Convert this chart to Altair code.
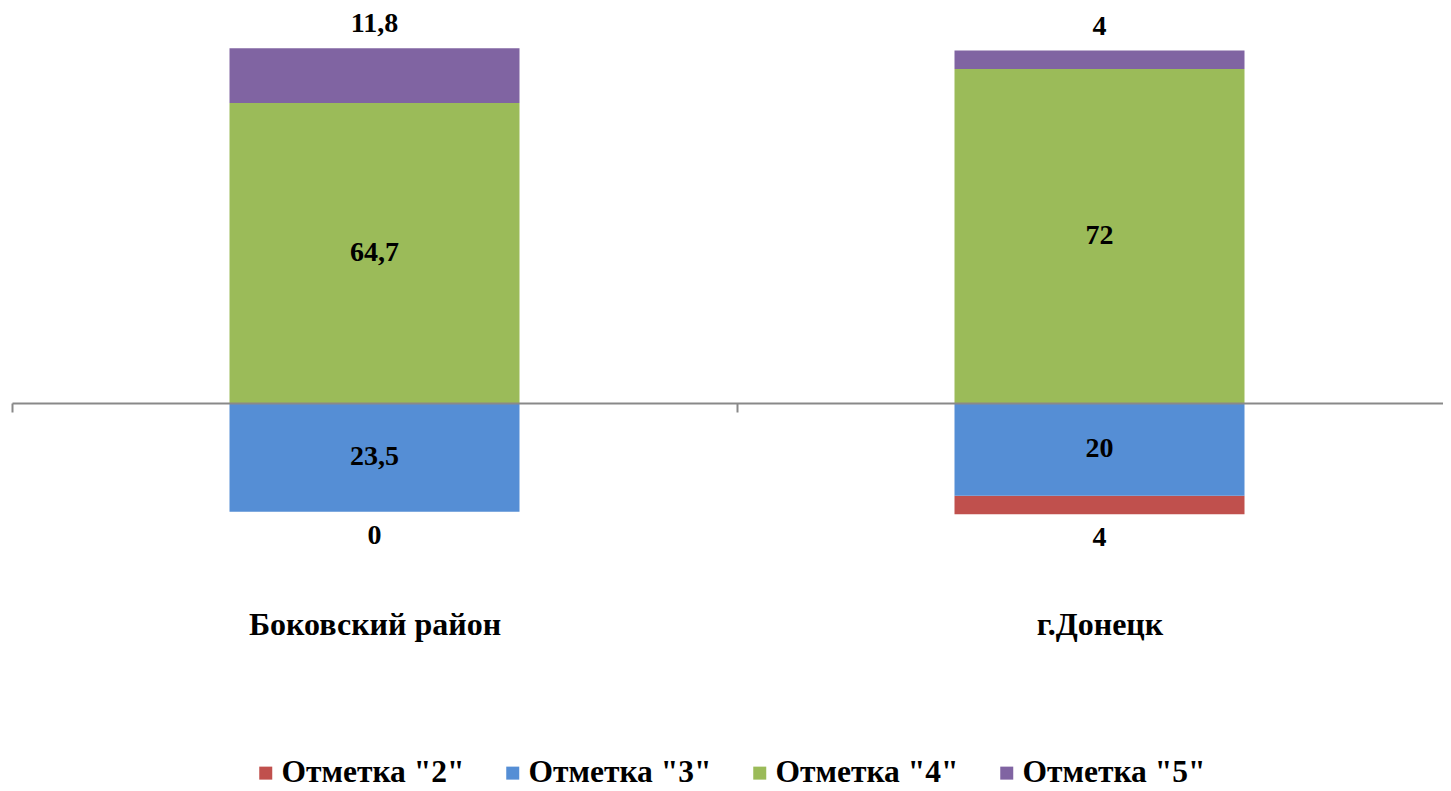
import altair as alt
import pandas as pd

categories = ["Боковский район", "г.Донецк"]
grades = ['Отметка "2"', 'Отметка "3"', 'Отметка "4"', 'Отметка "5"']
mark2 = [0, 4]
mark3 = [23.5, 20]
mark4 = [64.7, 72]
mark5 = [11.8, 4]
colors = ["#C0504D", "#558ED5", "#9BBB59", "#8064A2"]

series = [mark2, mark3, mark4, mark5]
sign = [-1, -1, 1, 1]
order = [1, 0, 0, 1]
pos = ["bottom", "mid", "mid", "top"]


def fmt(v):
    s = ("%g" % v)
    return s.replace(".", ",")


rows = []
for gi, g in enumerate(grades):
    for ci, c in enumerate(categories):
        v = series[gi][ci]
        rows.append({"category": c, "grade": g, "value": v,
                     "signed": sign[gi] * v, "ord": order[gi],
                     "pos": pos[gi], "label": fmt(v)})
df = pd.DataFrame(rows)

FONT = "Liberation Serif"

base = alt.Chart(df).transform_stack(
    stack="signed", groupby=["category"], as_=["y0", "y1"],
    sort=[alt.SortField("ord", order="ascending")]
).transform_calculate(
    mid="(datum.y0 + datum.y1) / 2",
    posv="datum.signed > 0 ? datum.signed : 0",
    negv="datum.signed < 0 ? datum.signed : 0",
).transform_joinaggregate(
    postotal="sum(posv)", negtotal="sum(negv)", groupby=["category"]
)

xscale = alt.Scale(paddingInner=0, paddingOuter=0, range=[0, 1450])
xenc = alt.X("category:N", sort=categories, scale=xscale,
             axis=alt.Axis(title=None, labelAngle=0, offset=-139,
                           domainColor="#898989", domainWidth=2,
                           tickColor="#898989", tickWidth=2, tickSize=9,
                           tickBand="extent", labelFont=FONT,
                           labelFontWeight="bold", labelFontSize=32,
                           labelColor="black", labelPadding=197,
                           labelLimit=0, zindex=1))
yscale = alt.Scale(domain=[-30, 80], nice=False, zero=False)

bars = base.mark_bar(size=290).encode(
    x=xenc,
    y=alt.Y("y0:Q", scale=yscale, axis=None),
    y2="y1:Q",
    color=alt.Color("grade:N", scale=alt.Scale(domain=grades, range=colors),
                    legend=alt.Legend(title=None, orient="none",
                                      direction="horizontal",
                                      legendX=238, legendY=725,
                                      symbolType="square", symbolSize=169,
                                      symbolStrokeWidth=0,
                                      labelFont=FONT, labelFontWeight="bold",
                                      labelFontSize=31.5, labelColor="black",
                                      labelLimit=0,
                                      labelOffset=0, columnPadding=32)),
)

txt = dict(font=FONT, fontWeight="bold", fontSize=28, color="black")
xplain = alt.X("category:N", sort=categories, scale=xscale)

mid_labels = base.transform_filter("datum.pos == 'mid'").mark_text(
    baseline="middle", **txt).encode(
    x=xplain, y=alt.Y("mid:Q", scale=yscale), text="label:N")

top_labels = base.transform_filter("datum.pos == 'top'").mark_text(
    baseline="alphabetic", dy=-16, **txt).encode(
    x=xplain, y=alt.Y("postotal:Q", scale=yscale), text="label:N")

bottom_labels = base.transform_filter("datum.pos == 'bottom'").mark_text(
    baseline="alphabetic", dy=32, **txt).encode(
    x=xplain, y=alt.Y("negtotal:Q", scale=yscale), text="label:N")

chart = alt.layer(bars, mid_labels, top_labels, bottom_labels).properties(
    width=1431, height=510,
    autosize=alt.AutoSizeParams(type="none"),
    padding={"left": 4, "top": 24, "right": 0, "bottom": 248},
).configure_view(stroke=None)

chart.save("out.html", embed_options={"renderer": "svg", "actions": False})
